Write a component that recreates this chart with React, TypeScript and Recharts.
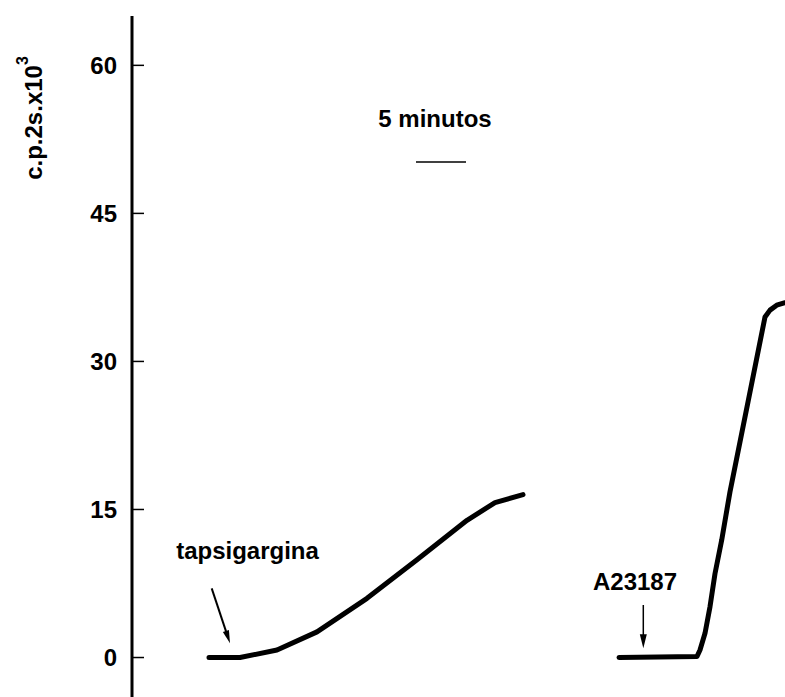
import React from 'react';
import { LineChart, Line, XAxis, YAxis, ReferenceLine, ReferenceDot } from 'recharts';

// time in minutes, counts in c.p.2s x10^3
const tapsiTime = [7.7, 10.8, 14.5, 18.5, 23.5, 28.5, 33.5, 36.3, 39.1];
const tapsiCounts = [0, 0, 0.76, 2.6, 6.0, 9.9, 13.9, 15.7, 16.5];

const a23Time = [48.7, 56.5, 56.8, 57.3, 57.8, 58.3, 58.97, 59.8, 61.6, 63.3, 63.8, 64.47, 65.3];
const a23Counts = [0, 0.1, 0.76, 2.45, 5.15, 8.5, 11.9, 16.8, 25.9, 34.5, 35.2, 35.7, 35.95];

const yTicks = [0, 15, 30, 45, 60];
const yDomain = [-4, 65];
const xDomain = [0, 65.3];

const tapsiData = tapsiTime.map((t, i) => ({ t, v: tapsiCounts[i] }));
const a23Data = a23Time.map((t, i) => ({ t, v: a23Counts[i] }));

const FONT = '"Liberation Sans", Arial, sans-serif';

const AxisTick = (props: any) => {
  const { x, y, payload } = props;
  return (
    <g>
      <line x1={x + 15} x2={x + 27} y1={y} y2={y} stroke="#000" strokeWidth={1.5} />
      <text x={x} y={y} dy={8.5} textAnchor="end" fontFamily={FONT} fontWeight="bold" fontSize={24} fill="#000">
        {payload.value}
      </text>
    </g>
  );
};

const YLabel = (props: any) => {
  const vb = props.viewBox || { x: 0, y: 16 };
  const cx = vb.x + 42;
  const cy = vb.y + 102;
  return (
    <text
      x={cx}
      y={cy}
      transform={`rotate(-90, ${cx}, ${cy})`}
      textAnchor="middle"
      fontFamily={FONT}
      fontWeight="bold"
      fontSize={24}
      fill="#000"
    >
      c.p.2s.x10
      <tspan fontSize={16} dy={-14}>3</tspan>
    </text>
  );
};

const makeTextShape = (txt: string) => (p: any) => (
  <text x={p.cx} y={p.cy} textAnchor="middle" fontFamily={FONT} fontWeight="bold" fontSize={24} fill="#000">
    {txt}
  </text>
);

const makeArrow = (width: number, headLen: number, headHalf: number) => (p: any) => {
  const { x1, y1, x2, y2 } = p;
  const dx = x2 - x1;
  const dy = y2 - y1;
  const len = Math.sqrt(dx * dx + dy * dy) || 1;
  const ux = dx / len;
  const uy = dy / len;
  const nx = -uy;
  const ny = ux;
  const bx = x2 - ux * headLen;
  const by = y2 - uy * headLen;
  return (
    <g>
      <line x1={x1} y1={y1} x2={bx + ux * 2} y2={by + uy * 2} stroke="#000" strokeWidth={width} />
      <polygon
        points={`${x2},${y2} ${bx + nx * headHalf},${by + ny * headHalf} ${bx - nx * headHalf},${by - ny * headHalf}`}
        fill="#000"
      />
    </g>
  );
};

export default function App() {
  return (
    <div style={{ position: 'absolute', left: 0, top: 0, background: '#fff' }}>
      <LineChart width={785} height={697} margin={{ top: 16, right: 0, bottom: 0, left: 0 }}>
        <XAxis type="number" dataKey="t" domain={xDomain} hide allowDuplicatedCategory={false} />
        <YAxis
          type="number"
          domain={yDomain}
          ticks={yTicks}
          width={132}
          axisLine={{ stroke: '#000', strokeWidth: 3 }}
          tickLine={false}
          tickSize={0}
          tickMargin={15}
          tick={<AxisTick />}
          interval={0}
          label={YLabel}
        />
        <Line
          data={tapsiData}
          dataKey="v"
          type="linear"
          stroke="#000"
          strokeWidth={5}
          strokeLinecap="round"
          strokeLinejoin="round"
          dot={false}
          activeDot={false}
          isAnimationActive={false}
        />
        <Line
          data={a23Data}
          dataKey="v"
          type="linear"
          stroke="#000"
          strokeWidth={5}
          strokeLinecap="round"
          strokeLinejoin="round"
          dot={false}
          activeDot={false}
          isAnimationActive={false}
        />
        <ReferenceLine
          segment={[{ x: 28.4, y: 50.2 }, { x: 33.4, y: 50.2 }]}
          stroke="#000"
          strokeWidth={1.5}
        />
        <ReferenceLine
          segment={[{ x: 7.97, y: 7.01 }, { x: 9.8, y: 1.44 }]}
          shape={makeArrow(2, 13, 3.2)}
        />
        <ReferenceLine
          segment={[{ x: 51.13, y: 5.32 }, { x: 51.13, y: 0.93 }]}
          shape={makeArrow(1.5, 14, 3.5)}
        />
        <ReferenceDot x={30.3} y={53.75} r={0} shape={makeTextShape('5 minutos')} />
        <ReferenceDot x={11.55} y={10.0} r={0} shape={makeTextShape('tapsigargina')} />
        <ReferenceDot x={50.3} y={6.84} r={0} shape={makeTextShape('A23187')} />
      </LineChart>
    </div>
  );
}
